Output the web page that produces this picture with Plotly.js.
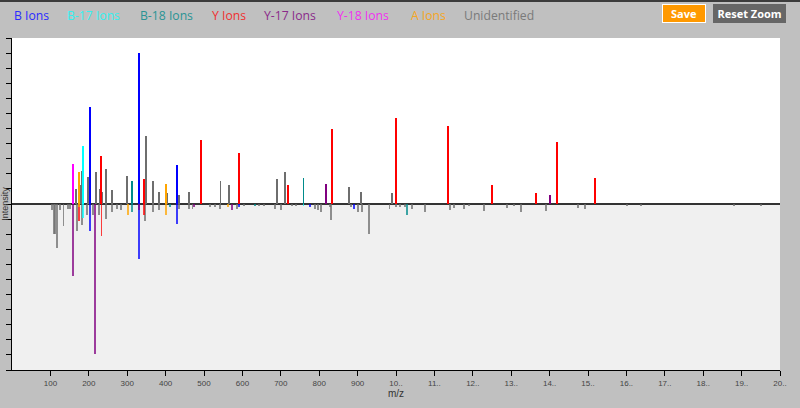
<!DOCTYPE html>
<html>
<head>
<meta charset="utf-8">
<script src="https://cdn.plot.ly/plotly-3.0.1.min.js"></script>
<style>html,body{margin:0;padding:0;background:#c0c0c0;overflow:hidden}#chart{width:800px;height:408px}</style>
</head>
<body>
<div id="chart"></div>
<script>
// ---- data ----
const seriesNames  = ['B Ions','B-17 Ions','B-18 Ions','Y Ions','Y-17 Ions','Y-18 Ions','A Ions','Unidentified'];
const seriesColors = ['#0000ff','#00ffff','#008b8b','#ff0000','#800080','#ff00ff','#ffa500','#6e6e6e'];

// observed (upper) spectrum
const bObsMz   = [203, 330, 429];
const bObsInt  = [64, 100, 26];
const b17ObsMz = [185];
const b17ObsInt= [38.4];
const b18ObsMz = [312, 759];
const b18ObsInt= [15, 17];
const yObsMz   = [231, 344, 492, 591, 719, 833, 999, 1136, 1250, 1365, 1420, 1519];
const yObsInt  = [32, 16.5, 42.4, 33.8, 12.6, 50, 57, 51.6, 12.6, 7.3, 41, 17];
const y17ObsMz = [817, 1402];
const y17ObsInt= [13, 5.8];
const y18ObsMz = [158];
const y18ObsInt= [26.3];
const aObsMz   = [175, 401];
const aObsInt  = [21, 13.3];
const uObsMz   = [166, 178, 181, 199, 218, 228, 235, 244, 261, 299, 348, 366, 383, 404, 434, 462, 543, 566, 691, 712, 878, 910, 990];
const uObsInt  = [10, 12.6, 22, 18, 21, 10, 8, 23, 9.6, 18.5, 45, 15, 8, 7.3, 6, 8, 15, 12.6, 16.6, 21, 11.3, 8, 7.3];

// mirrored (lower) spectrum
const bMirMz   = [203, 330, 429, 591, 777, 891];
const bMirInt  = [-18, -36.3, -13, -2, -2, -3];
const b17MirMz = [186, 759];
const b17MirInt= [-9, -1.5];
const b18MirMz = [312, 411, 632, 1029];
const b18MirInt= [-5, -2, -1.5, -7.3];
const yMirMz   = [174, 233, 343];
const yMirInt  = [-11, -21.4, -7];
const y17MirMz = [158, 216, 331, 473, 574];
const y17MirInt= [-47.7, -99.3, -4, -2, -4];
const y18MirMz = [];
const y18MirInt= [];
const aMirMz   = [174, 301, 401, 563];
const aMirInt  = [-2, -7, -7, -2];
const uMirMz   = [103,109,113,118,125,134,145,150,169,182,195,210,227,244,261,274,285,347,366,383,434,460,470,515,528,541,586,603,643,657,686,701,728,740,788,796,805,827,831,883,902,912,929,983,1001,1011,1024,1041,1076,1141,1150,1176,1189,1228,1288,1308,1326,1391,1474,1491,1601,1639,1880,1950];
const uMirInt  = [-4,-20,-20,-29,-4,-14.3,-3,-3,-18,-14,-7,-7,-7,-10,-5,-3,-4,-11,-5,-4,-3,-3,-3,-2,-2,-3,-3.5,-1.5,-1.5,-1.5,-3,-3.7,-1.5,-1.5,-3,-4,-5,-2,-10.8,-2,-5,-5,-19.6,-3.5,-2,-2,-2,-3.5,-5,-3.7,-2.5,-3.5,-1.5,-4.6,-2.4,-1.5,-5.3,-4.6,-2.9,-3.5,-1.5,-1.5,-1.5,-1.5];

const tickVals  = [100,200,300,400,500,600,700,800,900,1000,1100,1200,1300,1400,1500,1600,1700,1800,1900,2000];
const tickTexts = ['100','200','300','400','500','600','700','800','900','10..','11..','12..','13..','14..','15..','16..','17..','18..','19..','20..'];

// ---- build traces ----
const obsSets = [[bObsMz,bObsInt],[b17ObsMz,b17ObsInt],[b18ObsMz,b18ObsInt],[yObsMz,yObsInt],[y17ObsMz,y17ObsInt],[y18ObsMz,y18ObsInt],[aObsMz,aObsInt],[uObsMz,uObsInt]];
const mirSets = [[bMirMz,bMirInt],[b17MirMz,b17MirInt],[b18MirMz,b18MirInt],[yMirMz,yMirInt],[y17MirMz,y17MirInt],[y18MirMz,y18MirInt],[aMirMz,aMirInt],[uMirMz,uMirInt]];

const order = [7,0,1,2,3,4,5,6]; // unidentified drawn first (behind)
const barW = 5;
const traces = [];
order.forEach(i => {
  traces.push({type:'bar', x:mirSets[i][0], y:mirSets[i][1], width:barW, name:seriesNames[i],
    marker:{color:seriesColors[i], opacity:0.75, line:{width:0}}, showlegend:false, hoverinfo:'x+y'});
});
order.forEach(i => {
  traces.push({type:'bar', x:obsSets[i][0], y:obsSets[i][1], width:barW, name:seriesNames[i],
    marker:{color:seriesColors[i], line:{width:0}}, showlegend:false, hoverinfo:'x+y'});
});

// ---- layout helpers (pixel -> paper) ----
const L = 12, R = 20, T = 38, B = 38, W = 800, H = 408;
const pw = W - L - R, ph = H - T - B;
const px = v => (v - L) / pw;
const py = v => (H - B - v) / ph;

const legendLeft = [12, 65, 138, 210, 262, 335, 409, 462];
const legendTextColors = ['#2b2bff','#33f0f0','#2a9494','#f03030','#8a2a8a','#f030f0','#f5a623','#7a7a7a'];

const annotations = seriesNames.map((n, i) => ({
  text: n, xref:'paper', yref:'paper', x: px(legendLeft[i]), y: py(15),
  xanchor:'left', yanchor:'middle', showarrow:false,
  font:{family:'Open Sans', size:12.2, color:legendTextColors[i]}
}));
annotations.push({
  text:'<b>Save</b>', xref:'paper', yref:'paper', x:px(684), y:py(13.7), xanchor:'center', yanchor:'middle',
  showarrow:false, width:42, height:17, bgcolor:'#ff9900', bordercolor:'#ffffff', borderwidth:1, borderpad:0,
  font:{family:'Open Sans', size:11, color:'#ffffff'}
});
annotations.push({
  text:'<b>Reset Zoom</b>', xref:'paper', yref:'paper', x:px(749), y:py(13.7), xanchor:'center', yanchor:'middle',
  showarrow:false, width:71, height:17, bgcolor:'#666666', bordercolor:'#666666', borderwidth:1, borderpad:0,
  font:{family:'Open Sans', size:11, color:'#ffffff'}
});

const layout = {
  width:W, height:H,
  margin:{l:L, r:R, t:T, b:B, pad:0},
  paper_bgcolor:'#c0c0c0', plot_bgcolor:'#ffffff',
  barmode:'overlay', bargap:0,
  showlegend:false,
  xaxis:{range:[0,2000], tickmode:'array', tickvals:tickVals, ticktext:tickTexts,
    ticks:'outside', ticklen:5, tickwidth:1, tickcolor:'#000',
    showline:true, linecolor:'#000', linewidth:1, showgrid:false, zeroline:false,
    tickfont:{family:'Liberation Sans, Arial', size:8, color:'#444'},
    title:{text:'m/z', font:{family:'Liberation Sans, Arial', size:10, color:'#333'}, standoff:2},
    fixedrange:true},
  yaxis:{range:[-110,110], tick0:0, dtick:10, ticks:'outside', ticklen:5, tickwidth:1, tickcolor:'#000',
    showticklabels:false, showline:true, linecolor:'#000', linewidth:1, showgrid:false,
    zeroline:true, zerolinecolor:'#333', zerolinewidth:1.5,
    title:{text:'Intensity', font:{family:'Liberation Sans, Arial', size:9, color:'#333'}},
    fixedrange:true},
  shapes:[
    {type:'rect', xref:'paper', yref:'y', x0:0, x1:1, y0:-110, y1:0, fillcolor:'#f0f0f0', line:{width:0}, layer:'below'},
    {type:'rect', xref:'paper', yref:'paper', x0:px(0), x1:px(800), y0:py(2), y1:py(0), fillcolor:'#3c3c3c', line:{width:0}}
  ],
  annotations:annotations
};

Plotly.newPlot('chart', traces, layout, {displayModeBar:false, staticPlot:true});
</script>
</body>
</html>
